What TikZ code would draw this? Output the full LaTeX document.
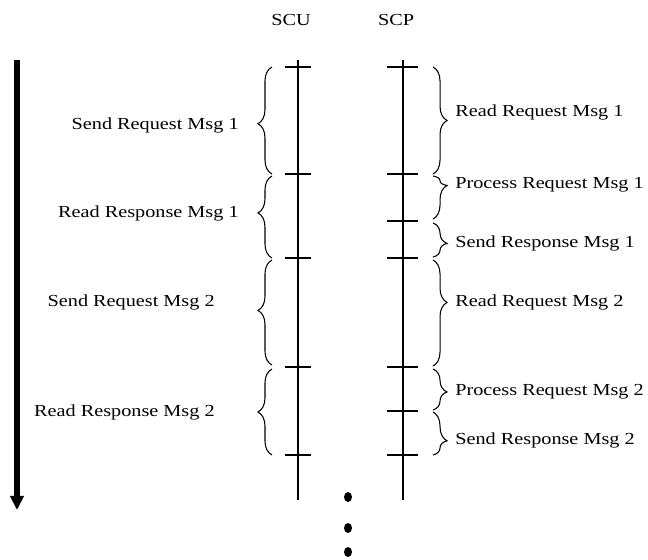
\documentclass[tikz,border=0pt]{standalone}
\usepackage{fontspec}
\setmainfont{Liberation Serif}[FakeStretch=1.2]
\usetikzlibrary{arrows.meta,decorations.pathreplacing}

\begin{document}
\begin{tikzpicture}[x=0.02cm,y=-0.02cm,
	lbl/.style={font=\fontsize{9.6}{11}\selectfont,inner sep=0pt},
	brc/.style={decorate,decoration={brace,amplitude=8pt,aspect=#1},line width=0.6pt},
	tck/.style={line width=0.8pt}]
		\useasboundingbox (0,0) rectangle (648,559);
		% time axis
		\coordinate (t0) at (17,60);
		\coordinate (t1) at (17,510);
		\draw[line width=3pt,-{Triangle[width=7.5pt,length=8pt]}] (t0) -- (t1);
		% lifelines
		\node[lbl] (scu) at (291,20) {SCU};
		\node[lbl] (scp) at (396,20) {SCP};
		\coordinate (u0) at (298,60);
		\coordinate (u1) at (298,500);
		\coordinate (p0) at (403,60);
		\coordinate (p1) at (403,500);
		\draw[tck] (u0) -- (u1);
		\draw[tck] (p0) -- (p1);
		\foreach \y in {67,174,258,367,455}
			\draw[tck] (285,\y) -- (311,\y);
		\foreach \y in {67,174,221,258,367,411,455}
			\draw[tck] (387,\y) -- (418,\y);
		% SCU side
		\draw[brc=0.47] (272,174) -- (272,67);
		\draw[brc=0.55] (272,258) -- (272,176);
		\draw[brc=0.52] (272,365) -- (272,260);
		\draw[brc=0.5] (272,455) -- (272,369);
		\node[lbl,anchor=east] (l1) at (239,125) {Send Request Msg 1};
		\node[lbl,anchor=east] (l2) at (239,213) {Read Response Msg 1};
		\node[lbl,anchor=east] (l3) at (215,302) {Send Request Msg 2};
		\node[lbl,anchor=east] (l4) at (215,412) {Read Response Msg 2};
		% SCP side
		\draw[brc=0.5] (433,67) -- (433,174);
		\draw[brc=0.22] (433,176) -- (433,219);
		\draw[brc=0.6] (433,223) -- (433,257);
		\draw[brc=0.4] (433,260) -- (433,366);
		\draw[brc=0.56] (433,369) -- (433,410);
		\draw[brc=0.67] (433,412) -- (433,455);
		\node[lbl,anchor=west] (r1) at (455,112) {Read Request Msg 1};
		\node[lbl,anchor=west] (r2) at (455,185) {Process Request Msg 1};
		\node[lbl,anchor=west] (r3) at (455,243) {Send Response Msg 1};
		\node[lbl,anchor=west] (r4) at (455,302) {Read Request Msg 2};
		\node[lbl,anchor=west] (r5) at (455,392) {Process Request Msg 2};
		\node[lbl,anchor=west] (r6) at (455,440) {Send Response Msg 2};
		% more to come
		\foreach \y in {497,528,552}
			\fill (348,\y) ellipse (4 and 5);
\end{tikzpicture}
\end{document}
